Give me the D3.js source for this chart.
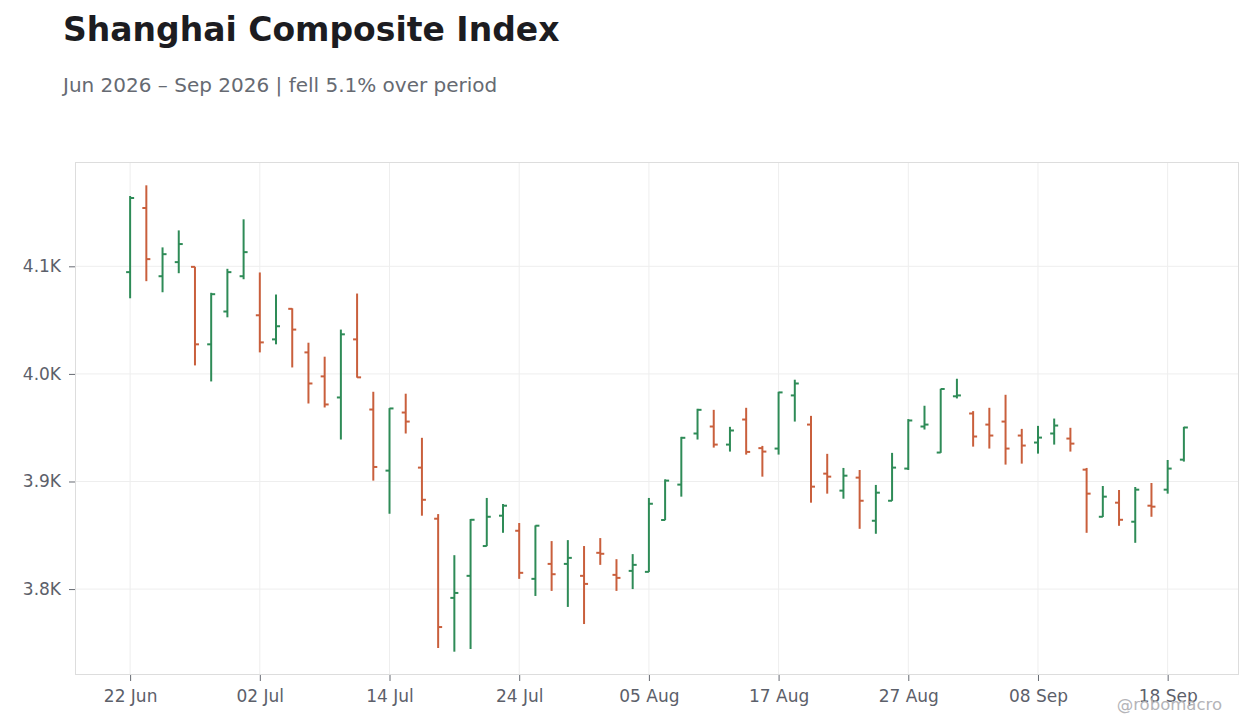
<!DOCTYPE html>
<html>
<head>
<meta charset="utf-8">
<script src="https://d3js.org/d3.v7.min.js"></script>
<style>
	body {margin: 0; background: #fff; }
	svg {display: block; font-family: "DejaVu Sans", sans-serif; }
</style>
</head>
<body>
<svg id="chart" width="1260" height="728"></svg>
<script>
// trading days, Jun 22 - Sep 21 2026
const dates = [
	"2026-06-22","2026-06-23","2026-06-24","2026-06-25","2026-06-26","2026-06-29","2026-06-30",
	"2026-07-01","2026-07-02","2026-07-03","2026-07-06","2026-07-07","2026-07-08","2026-07-09","2026-07-10",
	"2026-07-13","2026-07-14","2026-07-15","2026-07-16","2026-07-17","2026-07-20","2026-07-21","2026-07-22",
	"2026-07-23","2026-07-24","2026-07-27","2026-07-28","2026-07-29","2026-07-30","2026-07-31",
	"2026-08-03","2026-08-04","2026-08-05","2026-08-06","2026-08-07","2026-08-10","2026-08-11","2026-08-12",
	"2026-08-13","2026-08-14","2026-08-17","2026-08-18","2026-08-19","2026-08-20","2026-08-21","2026-08-24",
	"2026-08-25","2026-08-26","2026-08-27","2026-08-28","2026-08-31",
	"2026-09-01","2026-09-02","2026-09-03","2026-09-04","2026-09-07","2026-09-08","2026-09-09","2026-09-10",
	"2026-09-11","2026-09-14","2026-09-15","2026-09-16","2026-09-17","2026-09-18","2026-09-21"
];

const open = [
	4094.6, 4154.2, 4090.8, 4103.9, 4099.5, 4027.5, 4058.0, 4090.8, 4054.5, 4032.1,
	4060.5, 4020.0, 3997.7, 3978.1, 4032.1, 3966.9, 3910.1, 3964.1, 3912.9, 3865.4,
	3791.8, 3812.3, 3840.0, 3868.2, 3854.2, 3809.5, 3823.4, 3823.4, 3812.3, 3833.7,
	3813.2, 3816.9, 3816.0, 3864.2, 3897.1, 3944.6, 3951.1, 3934.3, 3957.6, 3931.0,
	3930.6, 3980.0, 3952.9, 3907.3, 3891.5, 3903.6, 3863.5, 3882.1, 3912.0, 3951.1,
	3926.9, 3979.2, 3963.2, 3952.9, 3955.7, 3942.7, 3936.2, 3944.6, 3939.9, 3911.0,
	3867.2, 3880.3, 3862.6, 3877.5, 3892.4, 3920.3
];
const high = [
	4165.4, 4175.3, 4117.6, 4133.4, 4099.6, 4075.4, 4097.7, 4143.7, 4094.3, 4073.8,
	4061.0, 4029.0, 4016.0, 4041.2, 4074.7, 3983.4, 3968.2, 3981.6, 3940.6, 3869.7,
	3831.5, 3865.1, 3884.7, 3879.1, 3861.4, 3859.2, 3844.6, 3845.5, 3840.0, 3847.4,
	3827.8, 3832.5, 3884.7, 3902.0, 3941.5, 3967.6, 3966.6, 3950.8, 3968.5, 3933.1,
	3983.4, 3994.6, 3961.0, 3925.7, 3912.6, 3910.7, 3896.8, 3926.6, 3958.0, 3970.4,
	3986.2, 3995.5, 3965.4, 3968.5, 3980.6, 3948.9, 3951.7, 3958.5, 3949.9, 3912.6,
	3895.8, 3892.1, 3894.9, 3898.6, 3920.0, 3950.8
];
const low = [
	4070.3, 4086.2, 4075.9, 4093.6, 4007.9, 3993.0, 4052.6, 4088.0, 4020.0, 4027.5,
	4006.0, 3972.5, 3968.8, 3939.0, 3996.5, 3900.8, 3870.0, 3944.6, 3868.2, 3745.2,
	3741.8, 3744.3, 3839.9, 3852.3, 3809.5, 3793.6, 3798.3, 3783.4, 3767.5, 3822.5,
	3798.3, 3800.0, 3815.8, 3864.0, 3885.9, 3939.0, 3931.5, 3927.8, 3925.0, 3904.5,
	3925.0, 3955.7, 3880.3, 3888.7, 3884.0, 3856.0, 3851.4, 3882.0, 3910.7, 3948.3,
	3926.6, 3977.2, 3932.4, 3930.6, 3915.7, 3916.6, 3925.9, 3934.3, 3927.8, 3852.3,
	3867.0, 3858.8, 3843.0, 3867.2, 3888.7, 3918.5
];
const close = [
	4163.5, 4106.7, 4111.3, 4120.7, 4027.5, 4074.1, 4094.6, 4113.2, 4029.3, 4044.3,
	4041.2, 3991.1, 3971.6, 4036.8, 3996.8, 3913.5, 3967.9, 3955.7, 3883.0, 3764.7,
	3796.4, 3864.4, 3867.2, 3877.5, 3815.1, 3858.9, 3813.8, 3829.0, 3804.8, 3832.8,
	3810.4, 3822.5, 3879.3, 3900.8, 3940.6, 3966.6, 3934.3, 3947.4, 3927.5, 3927.8,
	3982.8, 3991.1, 3895.2, 3904.5, 3905.4, 3882.1, 3889.6, 3912.9, 3956.7, 3952.9,
	3986.0, 3980.0, 3941.8, 3942.7, 3930.6, 3933.4, 3940.8, 3952.0, 3935.2, 3888.7,
	3885.9, 3864.4, 3892.4, 3876.6, 3912.0, 3950.2
];

const yTicks = [3800, 3900, 4000, 4100];
const tickEvery = 8;

const parseDate = d3.timeParse("%Y-%m-%d");
const fmtDate = d3.timeFormat("%d %b");

const bars = dates.map((d, i) => ({
	date: parseDate(d), o: open[i], h: high[i], l: low[i], c: close[i]
}));

const svg = d3.select("#chart");
const margin = {top: 162, right: 21, bottom: 53, left: 75};
const width = 1260, height = 728;

// title
svg.append("text")
	.attr("x", 63).attr("y", 41)
	.attr("font-size", "33px").attr("font-weight", "bold")
	.attr("fill", "#1c1c21")
	.text("Shanghai Composite Index");

const change = (close[close.length - 1] / close[0] - 1) * 100;
svg.append("text")
	.attr("x", 63).attr("y", 92)
	.attr("font-size", "20px")
	.attr("fill", "#666a72")
	.text(`Jun 2026 – Sep 2026 | ${change < 0 ? "fell" : "rose"} ${Math.abs(change).toFixed(1)}% over period`);

const x = d3.scalePoint()
	.domain(d3.range(bars.length))
	.range([margin.left, width - margin.right])
	.padding(3.4);

const yMin = d3.min(low), yMax = d3.max(high);
const pad = (yMax - yMin) * 0.05;
const y = d3.scaleLinear()
	.domain([yMin - pad, yMax + pad])
	.range([height - margin.bottom, margin.top]);

const tickIdx = d3.range(0, bars.length, tickEvery);

// grid
svg.append("g")
	.selectAll("line.vgrid")
	.data(tickIdx)
	.join("line")
	.attr("x1", d => x(d)).attr("x2", d => x(d))
	.attr("y1", margin.top).attr("y2", height - margin.bottom)
	.attr("stroke", "#eeeeee");

svg.append("g")
	.selectAll("line.hgrid")
	.data(yTicks)
	.join("line")
	.attr("x1", margin.left).attr("x2", width - margin.right)
	.attr("y1", d => y(d)).attr("y2", d => y(d))
	.attr("stroke", "#eeeeee");

svg.append("rect")
	.attr("x", margin.left + 0.5).attr("y", margin.top + 0.5)
	.attr("width", width - margin.left - margin.right - 1)
	.attr("height", height - margin.top - margin.bottom - 1)
	.attr("fill", "none")
	.attr("stroke", "#dddddd");

// axes
const xAxis = svg.append("g")
	.attr("transform", `translate(0,${height - margin.bottom})`)
	.call(d3.axisBottom(x).tickValues(tickIdx).tickSize(6).tickPadding(9)
		.tickFormat(i => fmtDate(bars[i].date)));

const yAxis = svg.append("g")
	.attr("transform", `translate(${margin.left},0)`)
	.call(d3.axisLeft(y).tickValues(yTicks).tickSize(6).tickPadding(8)
		.tickFormat(v => (v / 1000).toFixed(1) + "K"));

[xAxis, yAxis].forEach(g => {
	g.select(".domain").remove();
	g.selectAll(".tick line").attr("stroke", "#666a72");
	g.selectAll(".tick text")
		.attr("fill", "#5c606a")
		.attr("font-size", "17px")
		.attr("font-family", "DejaVu Sans, sans-serif");
});

// OHLC bars
const up = "#2e8b57", down = "#c95f3c";
const tick = 4;
const g = svg.append("g");
const bar = g.selectAll("g.bar")
	.data(bars)
	.join("g")
	.attr("stroke", d => d.c >= d.o ? up : down)
	.attr("stroke-width", 2);

bar.append("line")
	.attr("x1", (d, i) => x(i)).attr("x2", (d, i) => x(i))
	.attr("y1", d => y(d.h)).attr("y2", d => y(d.l));

bar.append("line")
	.attr("x1", (d, i) => x(i) - tick).attr("x2", (d, i) => x(i))
	.attr("y1", d => y(d.o)).attr("y2", d => y(d.o));

bar.append("line")
	.attr("x1", (d, i) => x(i)).attr("x2", (d, i) => x(i) + tick)
	.attr("y1", d => y(d.c)).attr("y2", d => y(d.c));

// watermark (sits over the last date label, as in the source)
svg.append("text")
	.attr("x", 1222).attr("y", 710)
	.attr("text-anchor", "end")
	.attr("font-size", "16.5px")
	.attr("fill", "#b4b4b8")
	.text("@robomacro");
</script>
</body>
</html>
